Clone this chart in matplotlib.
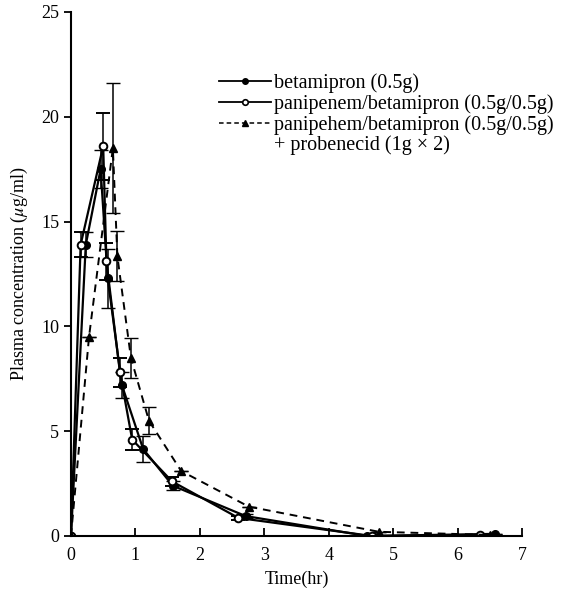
import numpy as np
import matplotlib.pyplot as plt
from matplotlib.lines import Line2D

plt.rcParams['font.family'] = ['Liberation Serif', 'DejaVu Serif']
plt.rcParams['mathtext.fontset'] = 'stix'

# betamipron (0.5g) - filled circles
t_beta = [0, 0.23, 0.46, 0.57, 0.79, 1.12, 1.58, 2.71, 4.6, 6.58]
c_beta = [0, 13.9, 17.5, 12.3, 7.2, 4.15, 2.4, 0.95, 0.0, 0.1]
e_beta = [0, 0.6, 0.9, 1.4, 0.6, 0.6, 0.2, 0.1, 0, 0]

# panipenem/betamipron - open circles
t_pb = [0, 0.15, 0.5, 0.55, 0.76, 0.95, 1.57, 2.6, 4.67, 6.35]
c_pb = [0, 13.9, 18.6, 13.1, 7.8, 4.6, 2.6, 0.86, 0.0, 0.05]
e_pb = [0, 0.6, 1.6, 0.9, 0.7, 0.5, 0.2, 0.1, 0, 0]

# panipenem/betamipron + probenecid - triangles
t_pro = [0, 0.28, 0.65, 0.72, 0.93, 1.21, 1.71, 2.76, 4.78, 6.5]
c_pro = [0, 9.5, 18.5, 13.35, 8.5, 5.5, 3.1, 1.4, 0.2, 0.05]
e_pro = [0, 0, 3.1, 1.2, 0.95, 0.65, 0, 0, 0, 0]

labels = ['betamipron (0.5g)',
          'panipenem/betamipron (0.5g/0.5g)',
          'panipehem/betamipron (0.5g/0.5g)',
          '+ probenecid (1g \u00d7 2)']

fig = plt.figure(figsize=(5.62, 5.96), dpi=100)
ax = fig.add_axes([0.1263, 0.1007, 0.8025, 0.8792])

ax.errorbar(t_beta, c_beta, yerr=e_beta, color='black', lw=1.6, marker='o',
            ms=5.5, mfc='black', mec='black', capsize=5, elinewidth=1.1)
ax.errorbar(t_pb, c_pb, yerr=e_pb, color='black', lw=1.6, marker='o',
            ms=5.5, mfc='white', mec='black', mew=1.4, capsize=5, elinewidth=1.1)
ax.errorbar(t_pro, c_pro, yerr=e_pro, color='black', lw=1.4, ls='--', dashes=(4, 3),
            marker='^', ms=5.5, mfc='black', mec='black', capsize=5, elinewidth=1.1)

handles = [
    Line2D([], [], color='black', lw=1.3, marker='o', ms=4, mfc='black'),
    Line2D([], [], color='black', lw=1.3, marker='o', ms=4, mfc='white', mew=1.2),
    Line2D([], [], color='black', lw=1.1, ls='--', dashes=(3, 2), marker='^', ms=4, mfc='black'),
    Line2D([], [], color='none'),
]

ax.set_xlim(0, 7)
ax.set_ylim(0, 25)
ax.set_xticks(range(8))
ax.set_yticks([0, 5, 10, 15, 20, 25])
ax.spines['top'].set_visible(False)
ax.spines['right'].set_visible(False)
ax.spines['left'].set_linewidth(1.5)
ax.spines['bottom'].set_linewidth(1.5)
ax.tick_params(axis='x', direction='in', length=6, width=1.3, labelsize=13, pad=8)
ax.tick_params(axis='y', direction='out', length=5, width=1.3, labelsize=13)

ax.set_xlabel('Time(hr)', fontsize=13, labelpad=5)
ax.set_ylabel('Plasma concentration ($\\mu$g/ml)', fontsize=13, labelpad=8)

leg = ax.legend(handles, labels, loc='upper left', bbox_to_anchor=(0.31, 0.898),
                frameon=False, fontsize=14.5, handlelength=2.6, handletextpad=0.15,
                labelspacing=0.05, borderaxespad=0)

fig.savefig('out.png', dpi=100)
